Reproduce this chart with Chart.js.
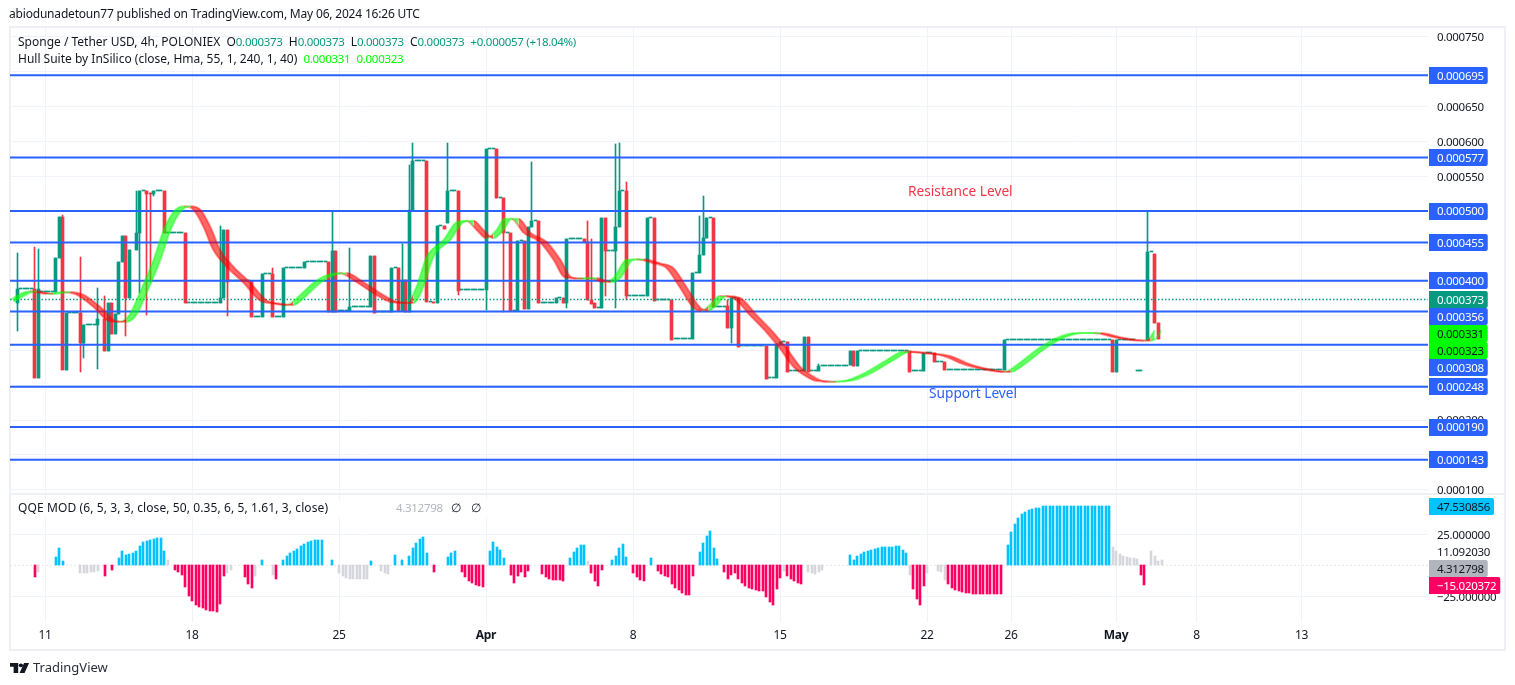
<!DOCTYPE html>
<html>
<head>
<meta charset="utf-8">
<title>Sponge / Tether USD</title>
<script src="https://cdn.jsdelivr.net/npm/chart.js@4"></script>
<style>
  html, body { margin: 0; background: #fff; width: 1515px; height: 685px; overflow: hidden; }
  body { font-family: "Noto Sans", sans-serif; font-size: 12px; color: #131722; }
  canvas { position: absolute; left: 0; top: 0; }
  .t { position: absolute; white-space: pre; line-height: 16px; }
  .g { color: #089981; font-size: 11.5px; letter-spacing: -0.3px; }
  .l { color: #00ff00; font-size: 11.5px; letter-spacing: -0.3px; }
  #frame { position: absolute; left: 9px; top: 26px; width: 1493px; height: 621px; border: 2px solid #eef0f6; }
  #sep { position: absolute; left: 10px; top: 493px; width: 1495px; height: 2px; background: #eef0f6; }
  #qqe-back { position: absolute; left: 12px; top: 500px; width: 478px; height: 17px; background: #fff; }
</style>
</head>
<body>
<div id="frame"></div>
<div id="sep"></div>
<canvas id="chart-sponge" width="1515" height="685"></canvas>
<div id="qqe-back"></div>
<div class="t" style="left:9px;top:6px;letter-spacing:-0.19px">abiodunadetoun77 published on TradingView.com, May 06, 2024 16:26 UTC</div>
<div class="t" style="left:18px;top:34px">Sponge / Tether USD, 4h, POLONIEX  O<span class="g">0.000373</span>  H<span class="g">0.000373</span>  L<span class="g">0.000373</span>  C<span class="g">0.000373</span>  <span class="g">+0.000057 (+18.04%)</span></div>
<div class="t" style="left:18px;top:51px">Hull Suite by InSilico (close, Hma, 55, 1, 240, 1, 40)  <span class="l">0.000331</span>  <span class="l">0.000323</span></div>
<div class="t" style="left:18px;top:500px;letter-spacing:0.1px">QQE MOD (6, 5, 3, 3, close, 50, 0.35, 6, 5, 1.61, 3, close)</div>
<div class="t" style="left:396px;top:500px;color:#b2b5be;font-size:11.5px;letter-spacing:-0.3px">4.312798</div>
<div class="t" style="left:451px;top:500px">∅</div>
<div class="t" style="left:471px;top:500px">∅</div>
<div class="t" style="left:908px;top:183px;font-size:13.7px;color:#f23645">Resistance Level</div>
<div class="t" style="left:929px;top:385px;font-size:13.7px;color:#2962ff">Support Level</div>
<svg style="position:absolute;left:10px;top:663px" width="20" height="10" viewBox="0 0 22 13" preserveAspectRatio="none"><path d="M0 0h9v13H4V5H0z" fill="#131722"/><circle cx="12" cy="3" r="2.4" fill="#131722"/><path d="M15.5 0H21L16 13h-5.5z" fill="#131722"/></svg>
<div class="t" style="left:33px;top:659px;font-size:13px;color:#2a2e39">TradingView</div>
<script>
// all prices are in millionths of a dollar (373 = 0.000373)
// x is the 4h bar number, bar 0 is the 11 March open
const barMin = -10;
const barMax = 395.14;

const tickBars = [0, 42, 84, 126, 168, 210, 252, 276, 306, 329, 359];
const tickLabels = ['11', '18', '25', 'Apr', '8', '15', '22', '26', 'May', '8', '13'];
const priceTicks = [750, 700, 650, 600, 550, 500, 450, 400, 350, 300, 250, 200, 150, 100];
const qqeTicks = [25, 11.09203, -25];

const levelValues = [695, 577, 500, 455, 400, 356, 308, 248, 190, 143];
const lastPrice = 373;
const hullLegend = [331, 323];

// candles with a real body or wick
const candleBars =  [-8, -3, -2, 3, 4, 5, 6, 10, 11, 15, 17, 18, 19, 20, 21, 22, 23, 24, 26, 27, 29, 30, 31, 34, 40, 50, 51, 52, 59, 62, 65, 68, 74, 81, 82, 83, 87, 93, 94, 99, 101, 102, 103, 104, 105, 109, 111, 112, 114, 115, 118, 126, 129, 131, 133, 135, 137, 138, 139, 141, 146, 148, 149, 154, 155, 156, 157, 159, 160, 163, 164, 166, 172, 174, 179, 185, 187, 188, 189, 191, 195, 196, 198, 206, 209, 210, 212, 217, 218, 221, 230, 231, 232, 247, 251, 254, 257, 274, 305, 306, 315, 317, 318];
const candleOpen =  [368, 388, 261, 384, 433, 492, 272, 354, 311, 336, 345, 299, 368, 323, 352, 427, 464, 375, 444, 468, 529, 526, 525, 529, 468, 368, 375, 473, 400, 348, 410, 348, 418, 427, 355, 443, 356, 362, 435, 355, 418, 356, 401, 355, 502, 572, 370, 368, 479, 483, 529, 387, 589, 519, 468, 356, 457, 359, 477, 486, 368, 375, 368, 460, 455, 372, 368, 361, 490, 443, 477, 529, 378, 490, 372, 316, 411, 437, 461, 490, 364, 332, 375, 306, 260, 309, 312, 270, 319, 270, 279, 299, 277, 299, 270, 296, 283, 272, 315, 269, 315, 438, 339];
const candleHigh =  [440, 449, 445, 433, 492, 494, 354, 434, 336, 390, 378, 368, 368, 352, 427, 464, 464, 444, 529, 529, 529, 526, 529, 529, 468, 479, 473, 473, 400, 410, 418, 418, 427, 427, 500, 443, 447, 435, 435, 418, 418, 453, 401, 566, 598, 572, 370, 479, 479, 598, 529, 589, 589, 519, 468, 457, 457, 477, 570, 486, 375, 375, 460, 460, 486, 460, 368, 490, 490, 596, 598, 542, 490, 490, 372, 411, 493, 522, 490, 490, 372, 375, 375, 306, 309, 312, 312, 319, 319, 281, 299, 299, 299, 299, 296, 296, 283, 315, 315, 315, 500, 438, 339];
const candleLow =   [328, 261, 261, 384, 433, 272, 272, 269, 289, 273, 299, 299, 323, 323, 352, 427, 321, 375, 444, 382, 351, 398, 522, 468, 368, 368, 375, 350, 348, 348, 348, 348, 418, 355, 355, 355, 356, 362, 354, 355, 356, 356, 355, 355, 502, 370, 368, 368, 474, 483, 380, 358, 519, 355, 356, 356, 359, 359, 477, 368, 368, 368, 361, 455, 372, 367, 361, 361, 378, 361, 477, 372, 378, 371, 315, 316, 411, 437, 461, 362, 332, 311, 305, 259, 260, 309, 269, 270, 269, 270, 279, 277, 277, 269, 270, 283, 272, 272, 269, 269, 315, 339, 316];
const candleClose = [388, 261, 388, 433, 492, 272, 354, 311, 336, 345, 299, 368, 323, 352, 427, 464, 375, 444, 468, 529, 525, 525, 529, 468, 368, 375, 473, 398, 348, 410, 348, 418, 427, 355, 443, 355, 362, 435, 354, 418, 356, 401, 355, 502, 572, 370, 368, 479, 474, 529, 385, 589, 519, 468, 356, 457, 359, 477, 486, 368, 375, 368, 460, 455, 372, 367, 361, 490, 443, 477, 529, 378, 490, 371, 315, 411, 437, 461, 490, 362, 332, 375, 305, 259, 309, 312, 269, 319, 269, 277, 299, 277, 299, 269, 296, 283, 272, 315, 269, 315, 441, 339, 316];

// runs of flat candles, they draw as the little dashes
const flatFrom =  [-7, -1, 7, 12, 28, 32, 35, 41, 53, 60, 63, 66, 69, 75, 84, 88, 95, 100, 106, 110, 113, 116, 119, 127, 130, 132, 134, 136, 140, 142, 147, 150, 158, 161, 165, 167, 173, 175, 180, 186, 190, 192, 197, 199, 207, 211, 213, 219, 222, 233, 248, 252, 255, 258, 275, 307, 312, 316];
const flatTo =    [-4, 2, 9, 14, 28, 33, 39, 49, 58, 61, 64, 67, 73, 80, 86, 92, 98, 100, 108, 110, 113, 117, 125, 128, 130, 132, 134, 136, 140, 145, 147, 153, 158, 162, 165, 171, 173, 178, 184, 186, 190, 194, 197, 205, 208, 211, 216, 220, 229, 246, 250, 253, 256, 273, 304, 311, 313, 316];
const flatPrice = [388, 384, 354, 336, 529, 529, 468, 368, 400, 348, 410, 348, 418, 427, 356, 362, 355, 418, 572, 370, 479, 529, 387, 589, 519, 468, 356, 457, 486, 368, 375, 460, 361, 443, 529, 378, 490, 372, 316, 411, 490, 363, 375, 306, 260, 312, 270, 270, 278, 299, 270, 296, 283, 272, 315, 315, 270, 441];

// hull band centre line
const hullBars =   [-10, -3.4, 1.4, 6.3, 10, 14.9, 19.4, 22.3, 25.1, 28, 32, 34.9, 37.7, 40.6, 43.4, 46.3, 49.1, 52.9, 57.7, 62.3, 66.3, 70, 72.9, 77.7, 80.9, 85.1, 90, 94.9, 99.4, 104.3, 107.1, 110, 114.9, 118.6, 121.4, 124.3, 127.1, 130, 132.3, 134.3, 137.7, 142.3, 146.3, 149.4, 152.9, 156.6, 160.6, 163.4, 167.1, 170, 174.9, 178.6, 182.3, 186.3, 188.6, 190.9, 193.7, 197.7, 202.3, 207.1, 210.9, 214.9, 217.7, 221.4, 225.1, 230, 235.7, 241.4, 246.3, 252, 257.7, 263.4, 270, 274.9, 279.4, 284.3, 290, 295.7, 300.6, 306.3, 310.9, 314.9, 316.6, 318];
const hullValues = [370, 385, 381, 384, 380, 362, 342, 341, 351, 382, 430, 473, 499, 507, 502, 477, 444, 420, 397, 372, 367, 365, 375, 397, 407, 411, 398, 382, 370, 368, 391, 434, 459, 484, 486, 473, 461, 473, 489, 489, 469, 456, 430, 405, 403, 404, 398, 404, 430, 431, 425, 418, 391, 361, 357, 365, 378, 375, 351, 326, 303, 276, 265, 256, 255, 257, 269, 286, 298, 296, 292, 280, 272, 269, 282, 301, 318, 325, 325, 319, 315, 314, 318, 329];

// QQE histogram, split by colour
const qqeBlueBars = [3, 4, 5, 21, 22, 23, 24, 25, 26, 27, 28, 29, 30, 31, 32, 33, 34, 62, 68, 69, 70, 71, 72, 73, 74, 75, 76, 77, 78, 79, 82, 93, 100, 102, 104, 105, 106, 107, 108, 109, 115, 116, 117, 127, 128, 129, 130, 131, 150, 151, 152, 153, 154, 162, 163, 164, 165, 166, 173, 187, 188, 189, 190, 191, 192, 230, 231, 232, 233, 234, 235, 236, 237, 238, 239, 240, 241, 242, 243, 244, 245, 246, 275, 276, 277, 278, 279, 280, 281, 282, 283, 284, 285, 286, 287, 288, 289, 290, 291, 292, 293, 294, 295, 296, 297, 298, 299, 300, 301, 302, 303, 304];
const qqeBlueValues = [6.7, 14, 3.5, 5.9, 11.6, 8.3, 9.1, 9.9, 11.6, 15.3, 18.8, 19.6, 20.7, 21.5, 22, 22, 11.6, 4.3, 4.3, 7.5, 9.9, 11.6, 13.2, 15.6, 17.2, 18.8, 19.9, 20.7, 20.7, 20.7, 4.3, 3.5, 8.3, 4.3, 7.5, 14, 18, 21.5, 22.8, 9.9, 6.7, 9.9, 11.6, 11.6, 18.8, 14.8, 12.4, 5.9, 5.9, 10.8, 14, 16.4, 16.4, 4.3, 7.5, 14, 17.2, 6.7, 5.9, 10.8, 18, 23.7, 27.7, 14, 5.1, 8.3, 4.3, 7.5, 9.1, 10.8, 11.6, 12.4, 13.2, 14, 14.8, 14.8, 14.8, 14.8, 15.6, 15.6, 12.4, 9.9, 16.4, 26.9, 33.3, 38.2, 41.4, 43, 44.6, 45.4, 46, 46.5, 47.5, 47.5, 47.5, 47.5, 47.5, 47.5, 47.5, 47.5, 47.5, 47.5, 47.5, 47.5, 47.5, 47.5, 47.5, 47.5, 47.5, 47.5, 47.5, 47.5];
const qqeRedBars = [-3, 17, 19, 37, 38, 39, 40, 41, 42, 43, 44, 45, 46, 47, 48, 49, 50, 51, 57, 58, 59, 66, 111, 119, 120, 121, 122, 123, 124, 125, 133, 134, 135, 136, 137, 138, 142, 143, 144, 145, 146, 147, 148, 156, 157, 158, 159, 168, 169, 170, 171, 175, 176, 177, 178, 179, 180, 181, 182, 183, 184, 185, 194, 195, 196, 197, 198, 199, 200, 201, 202, 203, 204, 205, 206, 207, 208, 209, 210, 212, 213, 214, 215, 216, 248, 249, 250, 251, 258, 259, 260, 261, 262, 263, 264, 265, 266, 267, 268, 269, 270, 271, 272, 273, 313, 314];
const qqeRedValues = [-9.1, -8.6, -3.8, -3.8, -5.6, -7.8, -17.5, -24.7, -28.8, -32, -33.6, -34.7, -35.8, -36.6, -36.8, -37.6, -31.2, -8.6, -9.4, -15, -18.3, -11, -5.4, -5.4, -9.4, -12.6, -14.2, -15.9, -16.7, -17.5, -7.8, -14.2, -8.6, -5.4, -9.4, -4.6, -7, -9.4, -11, -11.8, -11.8, -11.8, -12.6, -6.2, -12.6, -16.7, -3.8, -6.2, -9.4, -11.8, -12.6, -4.6, -7, -8.6, -9.4, -15, -18.3, -19.9, -22.3, -23.9, -23.9, -8.6, -5.4, -11, -7.8, -6.2, -11, -14.2, -16.7, -18.3, -19.1, -19.9, -20.7, -20.7, -25.5, -29.6, -32, -19.1, -10.2, -8.6, -11, -12.6, -14.2, -15, -19.1, -27.1, -32, -16.7, -15, -18.3, -19.9, -20.7, -21.5, -22.3, -22.3, -23.1, -23.1, -23.1, -23.1, -23.1, -23.1, -23.1, -23.1, -23.1, -7.8, -15.9];
const qqeGrayBars = [-2, 10, 11, 12, 13, 14, 15, 35, 52, 53, 60, 65, 84, 85, 86, 87, 88, 89, 90, 91, 92, 96, 97, 98, 155, 211, 218, 219, 220, 221, 222, 247, 252, 255, 256, 257, 305, 306, 307, 308, 309, 310, 311, 312, 316, 317, 318, 319];
const qqeGrayValues = [-5.1, -5.9, -5.9, -5.9, -5.6, -5.4, -4.5, 4, -5.9, -3.8, -8.6, -7.8, -5.9, -8.6, -9.9, -11, -11, -11, -11, -11, -11, -4.6, -5.9, -7, 3.5, -4.6, -5.4, -6.2, -7, -5.4, -3.8, -7.8, -6.2, -4.6, -5.4, -11.8, 14.8, 11.6, 9.1, 7.5, 6.7, 5.9, 5.9, 5.1, 11.6, 7.5, 3.5, 4.3];
const qqeBadgeValues = [47.530856, 11.09203, 4.312798, -15.020372];

const green = '#089981';
const red = '#f23645';
const blue = '#2962ff';

function fmtPrice(v) { return (v / 1e6).toFixed(6); }
function fmtQqe(v) { return v.toFixed(6).replace('-', '\u2212'); }

// candle pieces, one list per colour
const bodies = { up: [], down: [] };
const wicks = { up: [], down: [] };
candleBars.forEach((b, i) => {
    const side = candleClose[i] >= candleOpen[i] ? 'up' : 'down';
    bodies[side].push({ x: b, y: [candleOpen[i], candleClose[i]] });
    wicks[side].push({ x: b, y: [candleLow[i], candleHigh[i]] });
});
const flats = [];
flatFrom.forEach((from, i) => {
    for (let b = from; b <= flatTo[i]; b++) flats.push({ x: b, y: [flatPrice[i], flatPrice[i]] });
});

function candleSet(data, color, width, order) {
    return { data: data, backgroundColor: color, barThickness: width, minBarLength: 1, grouped: false, yAxisID: 'y', order: order };
}
function qqeSet(bars, values, color) {
    return { data: bars.map((b, i) => ({ x: b, y: values[i] })), backgroundColor: color, barThickness: 2, grouped: false, yAxisID: 'qqe', order: 6 };
}
function flatLine(v, axis, color, width, dash, order) {
    return { type: 'line', data: [{ x: barMin, y: v }, { x: barMax, y: v }], borderColor: color, borderWidth: width, borderDash: dash, pointRadius: 0, yAxisID: axis, order: order };
}
function hullSet(shift, fill) {
    return {
        type: 'line',
        data: hullBars.map((b, i) => ({ x: b + shift, y: hullValues[i] })),
        borderWidth: 2,
        pointRadius: 0,
        cubicInterpolationMode: 'monotone',
        fill: fill,
        yAxisID: 'y',
        order: 1,
        segment: {
            borderColor: ctx => ctx.p1.parsed.y >= ctx.p0.parsed.y ? 'rgba(0,255,0,0.4)' : 'rgba(255,0,0,0.4)',
            backgroundColor: ctx => ctx.p1.parsed.y >= ctx.p0.parsed.y ? 'rgba(0,255,0,0.6)' : 'rgba(255,0,0,0.6)'
        }
    };
}

// price labels on the axis push each other down like the TradingView scale does
function stackBadges(ctx, scale, badges) {
    let nextY = -Infinity;
    badges.slice().sort((a, b) => b.v - a.v).forEach(b => {
        const y = Math.max(scale.getPixelForValue(b.v), nextY);
        nextY = y + 17;
        if (!b.bg) return;
        const w = ctx.measureText(b.text).width + 12;
        ctx.fillStyle = b.bg;
        ctx.beginPath();
        ctx.roundRect(scale.left + 1, Math.round(y - 8.5), w, 17, [0, 2, 2, 0]);
        ctx.fill();
        ctx.fillStyle = b.fg;
        ctx.fillText(b.text, scale.left + 9, y + 1);
    });
}

const badgePlugin = {
    id: 'badges',
    beforeDraw(chart) {
        chart.ctx.letterSpacing = '-0.3px';
    },
    afterDraw(chart) {
        const ctx = chart.ctx;
        ctx.save();
        ctx.font = '11.5px "Noto Sans", sans-serif';
        ctx.textBaseline = 'middle';
        ctx.textAlign = 'left';
        const priceBadges = levelValues.map(v => ({ v: v, text: fmtPrice(v), bg: blue, fg: '#fff' }));
        priceBadges.push({ v: lastPrice, text: fmtPrice(lastPrice), bg: green, fg: '#fff' });
        hullLegend.forEach(v => priceBadges.push({ v: v, text: fmtPrice(v), bg: '#00ff00', fg: '#131722' }));
        stackBadges(ctx, chart.scales.y, priceBadges);
        const qqeColors = [['#00c3ff', '#131722'], [null, null], ['#b2b5be', '#131722'], ['#ff0062', '#fff']];
        stackBadges(ctx, chart.scales.qqe, qqeBadgeValues.map((v, i) => ({ v: v, text: fmtQqe(v), bg: qqeColors[i][0], fg: qqeColors[i][1] })));
        ctx.restore();
    }
};

// bars land on whole pixels so they stay crisp
const snapPlugin = {
    id: 'snap',
    afterDatasetsUpdate(chart) {
        chart.getSortedVisibleDatasetMetas().forEach(meta => {
            if (meta.type !== 'bar') return;
            meta.data.forEach(el => {
                el.x = el.width === 2 ? Math.round(el.x) : Math.floor(el.x) + 0.5;
                el.y = Math.round(el.y);
                el.base = Math.round(el.base);
                if (el.y === el.base) el.base = el.y + 1;
            });
        });
    }
};

const tickFont = { family: '"Noto Sans", sans-serif', size: 11.5 };

new Chart(document.getElementById('chart-sponge').getContext('2d'), {
    type: 'bar',
    plugins: [snapPlugin, badgePlugin],
    data: {
        datasets: [
            hullSet(1, { target: '+1' }),
            hullSet(-1, false),
            ...levelValues.map(v => flatLine(v, 'y', blue, 2, [], 2)),
            flatLine(lastPrice, 'y', green, 1.5, [1.5, 2], 3),
            candleSet(bodies.up, green, 3, 4),
            candleSet(bodies.down, red, 3, 4),
            candleSet(flats, green, 3, 4),
            candleSet(wicks.up, green, 1, 5),
            candleSet(wicks.down, red, 1, 5),
            flatLine(0, 'qqe', '#e4e6ec', 1, [2, 2], 7),
            qqeSet(qqeBlueBars, qqeBlueValues, '#00c3ff'),
            qqeSet(qqeRedBars, qqeRedValues, '#ff0062'),
            qqeSet(qqeGrayBars, qqeGrayValues, '#d6d7dc')
        ]
    },
    options: {
        responsive: false,
        devicePixelRatio: 1,
        animation: false,
        events: [],
        layout: { autoPadding: false, padding: { left: 10, top: 28, right: 11, bottom: 35 } },
        plugins: { legend: { display: false }, tooltip: { enabled: false } },
        scales: {
            x: {
                type: 'linear',
                offset: false,
                min: barMin,
                max: barMax,
                bounds: 'data',
                border: { display: false },
                grid: { color: '#f0f3fa', drawTicks: false, offset: false },
                afterFit(scale) { scale.height = 28; },
                afterBuildTicks(scale) { scale.ticks = tickBars.map(b => ({ value: b })); },
                ticks: {
                    autoSkip: false,
                    maxRotation: 0,
                    padding: 6,
                    color: '#131722',
                    callback: v => tickLabels[tickBars.indexOf(v)],
                    font: ctx => ({ family: tickFont.family, size: 12, weight: ctx.tick && isNaN(ctx.tick.label) ? 'bold' : 'normal' })
                }
            },
            y: {
                position: 'right',
                stack: 'panes',
                stackWeight: 465,
                min: 95.3,
                max: 762.9,
                bounds: 'data',
                border: { display: false },
                grid: { color: '#f0f3fa', drawTicks: false },
                afterFit(scale) { scale.width = 76; },
                afterBuildTicks(scale) { scale.ticks = priceTicks.map(v => ({ value: v })); },
                ticks: { autoSkip: false, padding: 9, labelOffset: 1, color: '#131722', font: tickFont, callback: v => fmtPrice(v) }
            },
            qqe: {
                position: 'right',
                stack: 'panes',
                stackWeight: 129,
                min: -45.7,
                max: 58.3,
                bounds: 'data',
                border: { display: false },
                grid: { color: ctx => Math.abs(ctx.tick.value) === 25 ? '#f0f3fa' : 'transparent', drawTicks: false },
                afterFit(scale) { scale.width = 76; },
                afterBuildTicks(scale) { scale.ticks = qqeTicks.map(v => ({ value: v })); },
                ticks: { autoSkip: false, padding: 9, labelOffset: 1, color: '#131722', font: tickFont, callback: v => fmtQqe(v) }
            }
        }
    }
});
</script>
</body>
</html>
